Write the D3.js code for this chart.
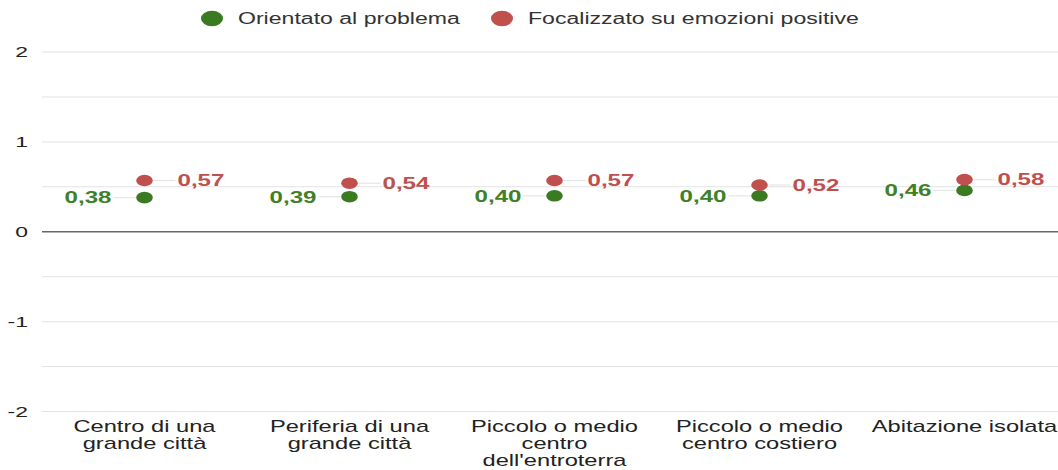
<!DOCTYPE html>
<html>
<head>
<meta charset="utf-8">
<script src="https://cdn.jsdelivr.net/npm/d3@7/dist/d3.min.js"></script>
<style>
  html, body { margin: 0; padding: 0; background: #fff; }
  svg { display: block; font-family: "Liberation Sans", Arial, sans-serif; }
</style>
</head>
<body>
<div id="chart"></div>
<script>
const categories = [
  ["Centro di una", "grande città"],
  ["Periferia di una", "grande città"],
  ["Piccolo o medio", "centro", "dell'entroterra"],
  ["Piccolo o medio", "centro costiero"],
  ["Abitazione isolata"]
];
const seriesNames = ["Orientato al problema", "Focalizzato su emozioni positive"];
const problema = [0.38, 0.39, 0.40, 0.40, 0.46];
const emozioni = [0.57, 0.54, 0.57, 0.52, 0.58];
const yTicks = [-2, -1, 0, 1, 2];
const yMinor = [-1.5, -0.5, 0.5, 1.5];
const colors = ["#3a7b22", "#c0504d"];

const W = 1058, H = 470;
const sx = 1.48; // horizontal stretch of the original rendering
const iw = W / sx;

const svg = d3.select("#chart").append("svg").attr("width", W).attr("height", H);
const g = svg.append("g").attr("transform", `scale(${sx},1)`);

const y = d3.scaleLinear().domain([-2, 2]).range([411.5, 52]);
const x = d3.scaleBand().domain(d3.range(categories.length))
  .range([42 / sx, 1067 / sx]);

const fmt = v => d3.format(".2f")(v).replace(".", ",");

// grid
g.append("g").selectAll("line").data(yMinor.concat(yTicks.filter(t => t !== 0))).join("line")
  .attr("x1", 42 / sx).attr("x2", iw)
  .attr("y1", d => y(d)).attr("y2", d => y(d))
  .attr("stroke", "#e2e2e2").attr("stroke-width", 1);
g.append("line").attr("x1", 42 / sx).attr("x2", iw)
  .attr("y1", y(0)).attr("y2", y(0))
  .attr("stroke", "#666").attr("stroke-width", 1.3);

// y axis labels
g.append("g").selectAll("text").data(yTicks).join("text")
  .attr("x", 28 / sx).attr("y", d => y(d)).attr("dy", "0.35em")
  .attr("text-anchor", "end").attr("font-size", 15.5).attr("fill", "#222")
  .text(d => d);

// x labels
const xl = g.append("g").selectAll("text").data(categories).join("text")
  .attr("x", (d, i) => x(i) + x.bandwidth() / 2)
  .attr("y", 432.5).attr("text-anchor", "middle").attr("font-size", 16).attr("fill", "#222");
xl.selectAll("tspan").data(d => d).join("tspan")
  .attr("x", function () { return d3.select(this.parentNode).attr("x"); })
  .attr("dy", (d, i) => i === 0 ? 0 : 17)
  .text(d => d);

// markers, connectors and labels
const series = [problema, emozioni];
series.forEach((vals, s) => {
  const grp = g.append("g");
  const dir = s === 0 ? -1 : 1;
  const cx = i => x(i) + x.bandwidth() / 2;
  grp.selectAll("line").data(vals).join("line")
    .attr("x1", (d, i) => cx(i) + dir * 9 / sx)
    .attr("x2", (d, i) => cx(i) + dir * 31 / sx)
    .attr("y1", d => y(d)).attr("y2", d => y(d))
    .attr("stroke", "#e6e6e6").attr("stroke-width", 1.2);
  grp.selectAll("ellipse").data(vals).join("ellipse")
    .attr("cx", (d, i) => cx(i)).attr("cy", d => y(d))
    .attr("rx", 8.3 / sx).attr("ry", 5.8)
    .attr("fill", colors[s]);
  grp.selectAll("text").data(vals).join("text")
    .attr("x", (d, i) => cx(i) + dir * 33 / sx)
    .attr("y", d => y(d)).attr("dy", "0.36em")
    .attr("text-anchor", s === 0 ? "end" : "start")
    .attr("font-size", 16.3).attr("font-weight", "bold")
    .attr("fill", s === 0 ? "#3f8127" : "#c0504d")
    .text(d => fmt(d));
});

// legend
const legendItems = [
  { name: seriesNames[0], cx: 212, tx: 238 },
  { name: seriesNames[1], cx: 502, tx: 528 }
];
const lg = g.append("g");
legendItems.forEach((it, i) => {
  lg.append("ellipse").attr("cx", it.cx / sx).attr("cy", 18.5)
    .attr("rx", 11 / sx).attr("ry", 7.8).attr("fill", colors[i]);
  lg.append("text").attr("x", it.tx / sx).attr("y", 18.5).attr("dy", "0.35em")
    .attr("font-size", 15.6).attr("fill", "#333").text(it.name);
});
</script>
</body>
</html>
